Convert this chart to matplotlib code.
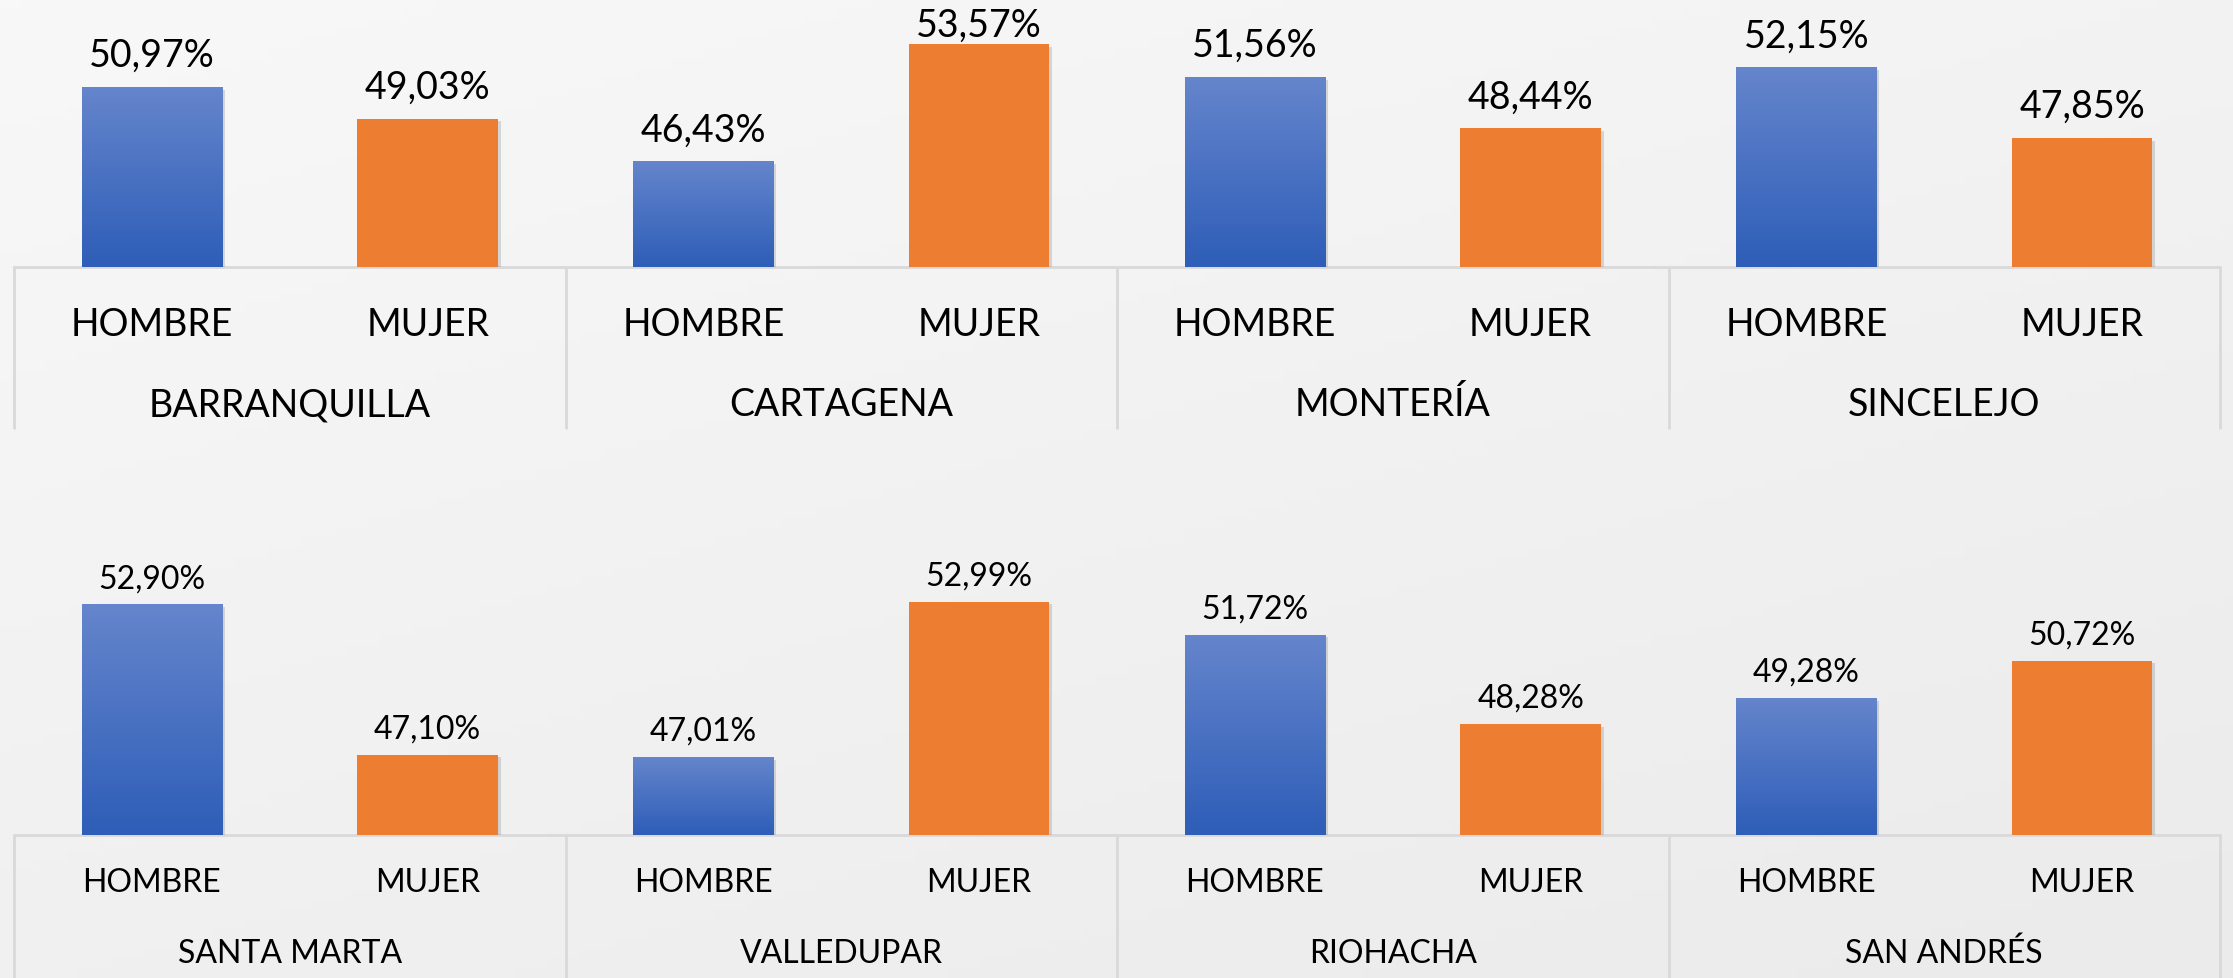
import numpy as np
import matplotlib
matplotlib.use("Agg")
from matplotlib import pyplot as plt
import matplotlib.patheffects as pe

# data
sexes = ["HOMBRE", "MUJER"]

cities_top = ["BARRANQUILLA", "CARTAGENA", "MONTERÍA", "SINCELEJO"]
hombre_top = [50.97, 46.43, 51.56, 52.15]
mujer_top = [49.03, 53.57, 48.44, 47.85]

cities_bottom = ["SANTA MARTA", "VALLEDUPAR", "RIOHACHA", "SAN ANDRÉS"]
hombre_bottom = [52.90, 47.01, 51.72, 49.28]
mujer_bottom = [47.10, 52.99, 48.28, 50.72]

W, H = 2233, 979
DPI = 100
BLUE_TOP = "#6585cc"
BLUE_BOT = "#2e5eb8"
ORANGE = "#ed7d31"
GRID = "#d9d9d9"

plt.rcParams["font.family"] = ["Lato", "DejaVu Sans"]

fig = plt.figure(figsize=(W / DPI, H / DPI), dpi=DPI)

# soft grey background gradient (lighter top-left, a bit darker bottom-right)
bg = fig.add_axes([0, 0, 1, 1], zorder=-10)
gx, gy = np.meshgrid(np.linspace(0, 1, 200), np.linspace(0, 1, 100))
bg_cmap = matplotlib.colors.LinearSegmentedColormap.from_list("bg", ["#f8f8f8", "#ebebeb"])
bg.imshow(0.4 * gx + 0.6 * gy, cmap=bg_cmap, vmin=0, vmax=1, aspect="auto",
          extent=[0, 1, 0, 1], origin="upper")
bg.axis("off")

blue_cmap = matplotlib.colors.LinearSegmentedColormap.from_list("b", [BLUE_BOT, BLUE_TOP])


def fmt(v):
    return "{:.2f}".format(v).replace(".", ",") + "%"


def panel(base_px, top_px, line_px, ymin, px_per_unit, cities, hombre, mujer,
          fsize, lab1_px, lab2_px, val_gap, min_label_base):
    left, right = 14, 2220
    height = base_px - top_px
    ax = fig.add_axes([left / W, 1 - base_px / H, (right - left) / W, height / H])
    ax.axis("off")

    values = []
    for h, m in zip(hombre, mujer):
        values += [h, m]
    xs = np.arange(len(values))
    bars = ax.bar(xs, np.array(values) - ymin, bottom=ymin, width=0.51,
                  color=[BLUE_BOT, ORANGE] * len(cities), zorder=3,
                  path_effects=[pe.SimplePatchShadow(offset=(2, -2), shadow_rgbFace="#555555", alpha=0.2),
                                pe.Normal()])
    # vertical gradient on the blue bars
    grad = np.linspace(0, 1, 100).reshape(-1, 1)
    for i, b in enumerate(bars):
        if i % 2 == 0:
            x0, y0 = b.get_x(), b.get_y()
            im = ax.imshow(grad, cmap=blue_cmap, aspect="auto", origin="lower",
                           extent=[x0, x0 + b.get_width(), y0, y0 + b.get_height()], zorder=4)
            im.set_clip_path(b)
        # labels sit above the bar, but are kept inside the chart area
        bar_top = base_px - (values[i] - ymin) * px_per_unit
        label_base = max(bar_top - val_gap, min_label_base)
        ax.annotate(fmt(values[i]), (xs[i], values[i]), xytext=(0, bar_top - label_base),
                    textcoords="offset pixels", ha="center", va="baseline",
                    fontsize=fsize, color="black", zorder=5)

    ax.set_xlim(-0.5, 2 * len(cities) - 0.5)
    ax.set_ylim(ymin, ymin + height / px_per_unit)

    # category axis table
    tr = ax.get_xaxis_transform()
    ax.plot([-0.5, 2 * len(cities) - 0.5], [0, 0], transform=tr, color=GRID, lw=2,
            clip_on=False, zorder=2)
    low = -(line_px - base_px) / height
    seps = np.arange(len(cities) + 1) * 2 - 0.5
    ax.vlines(seps, low, 0, transform=tr, color=GRID, lw=2, clip_on=False)
    for i, x in enumerate(xs):
        ax.annotate(sexes[i % 2], (x, 0), xycoords=tr, xytext=(0, -lab1_px),
                    textcoords="offset pixels", ha="center", va="center", fontsize=fsize)
    for j, c in enumerate(cities):
        ax.annotate(c, (2 * j + 0.5, 0), xycoords=tr, xytext=(0, -lab2_px),
                    textcoords="offset pixels", ha="center", va="center", fontsize=fsize)
    return ax


panel(268, 0, 430, 40, 16.43, cities_top, hombre_top, mujer_top,
      27, 57, 137, 21, 37)
panel(836, 540, 979, 44, 25.95, cities_bottom, hombre_bottom, mujer_bottom,
      23, 47, 118, 17, 560)

fig.savefig("out.png", dpi=DPI)
